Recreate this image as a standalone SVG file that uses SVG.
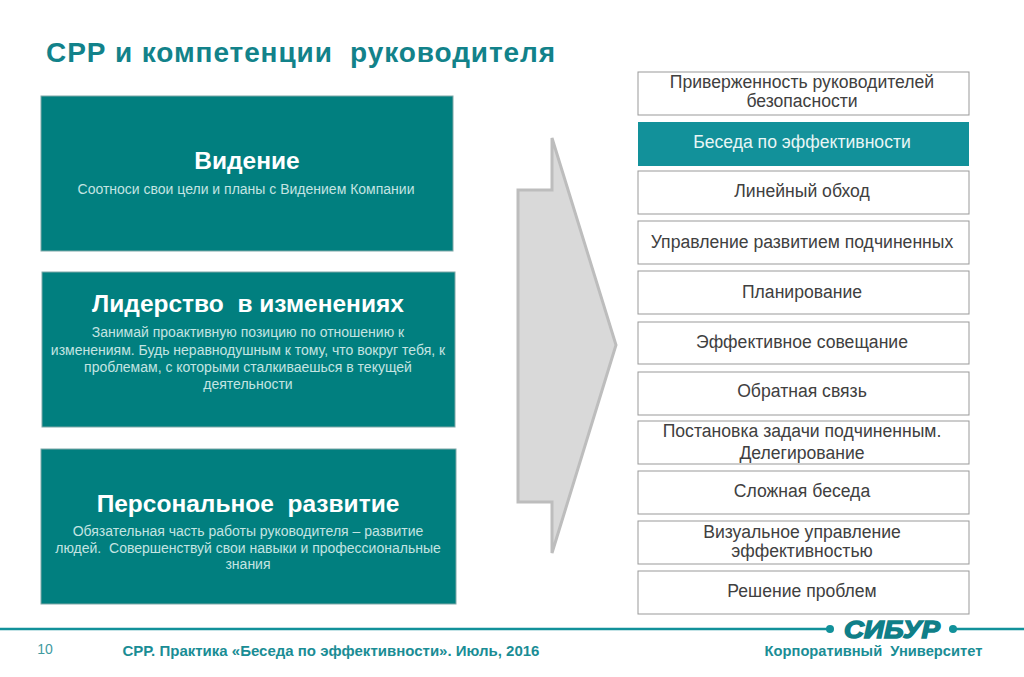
<svg xmlns="http://www.w3.org/2000/svg" width="1024" height="677" viewBox="0 0 1024 677">
<style>
text{font-family:"Liberation Sans",Arial,sans-serif;text-anchor:middle}
.panel{fill:#017f7f;stroke:#7fa8a8;stroke-width:1}
.h{font-size:24.5px;font-weight:bold;fill:#fff}
.s{font-size:14px;fill:#c4e4e2}
.box{fill:#fff;stroke:#999;stroke-width:1}
.l{font-size:17.6px;fill:#404040}
.f{font-size:15px;font-weight:bold;fill:#1a8d95}
</style>
<rect width="1024" height="677" fill="#fff"/>
<text id="title" x="301" y="62" font-size="28" font-weight="bold" fill="#12828a" letter-spacing="0.9" xml:space="preserve">СРР и компетенции  руководителя</text>
<g id="panel-1"><rect class="panel" x="41" y="96" width="412" height="155"/>
<text class="h" x="247" y="169">Видение</text>
<text class="s" x="246" y="194">Соотноси свои цели и планы с Видением Компании</text></g>
<g id="panel-2"><rect class="panel" x="42" y="272" width="413" height="155"/>
<text class="h" x="248" y="312" xml:space="preserve">Лидерство  в изменениях</text>
<text class="s" x="248" y="337">Занимай проактивную позицию по отношению к</text>
<text class="s" x="248" y="355">изменениям. Будь неравнодушным к тому, что вокруг тебя, к</text>
<text class="s" x="248" y="372">проблемам, с которыми сталкиваешься в текущей</text>
<text class="s" x="248" y="389">деятельности</text></g>
<g id="panel-3"><rect class="panel" x="41" y="449" width="415" height="155"/>
<text class="h" x="248" y="512" xml:space="preserve">Персональное  развитие</text>
<text class="s" x="248" y="536">Обязательная часть работы руководителя – развитие</text>
<text class="s" x="248" y="553" xml:space="preserve">людей.  Совершенствуй свои навыки и профессиональные</text>
<text class="s" x="248" y="569">знания</text></g>
<g id="arrow"><path d="M518 190H552V138L616 345L552 553V502H518Z" fill="#d9d9d9" stroke="#bdbdbd" stroke-width="3"/></g>
<g id="n1"><rect class="box" x="638" y="72" width="331" height="43"/><text class="l" x="802" y="88">Приверженность руководителей</text><text class="l" x="802" y="107">безопасности</text></g>
<g id="n2"><rect x="638" y="122" width="331" height="44" fill="#12919a"/><text class="l" x="802" y="148" style="fill:#e8f6f6">Беседа по эффективности</text></g>
<g id="n3"><rect class="box" x="638" y="171" width="331" height="43"/><text class="l" x="802" y="197">Линейный обход</text></g>
<g id="n4"><rect class="box" x="638" y="221" width="331" height="43"/><text class="l" x="802" y="248">Управление развитием подчиненных</text></g>
<g id="n5"><rect class="box" x="638" y="271" width="331" height="43"/><text class="l" x="802" y="298">Планирование</text></g>
<g id="n6"><rect class="box" x="638" y="322" width="331" height="42"/><text class="l" x="802" y="348">Эффективное совещание</text></g>
<g id="n7"><rect class="box" x="638" y="372" width="331" height="43"/><text class="l" x="802" y="397">Обратная связь</text></g>
<g id="n8"><rect class="box" x="638" y="421" width="331" height="43"/><text class="l" x="802" y="437">Постановка задачи подчиненным.</text><text class="l" x="802" y="459">Делегирование</text></g>
<g id="n9"><rect class="box" x="638" y="471" width="331" height="43"/><text class="l" x="802" y="497">Сложная беседа</text></g>
<g id="n10"><rect class="box" x="638" y="521" width="331" height="43"/><text class="l" x="802" y="538">Визуальное управление</text><text class="l" x="802" y="557">эффективностью</text></g>
<g id="n11"><rect class="box" x="638" y="571" width="331" height="43"/><text class="l" x="802" y="597">Решение проблем</text></g>
<g id="footer">
<path d="M0 629H830M953 629H1024" stroke="#12919a" stroke-width="2.5" fill="none"/>
<circle cx="830" cy="629" r="4" fill="#12919a"/><circle cx="953" cy="629" r="4" fill="#12919a"/>
<text x="892" y="637.500" font-size="24" font-weight="bold" font-style="italic" fill="#0f7f88" stroke="#0f7f88" stroke-width="1.4" textLength="96" lengthAdjust="spacingAndGlyphs">СИБУР</text>
<text x="45" y="654" font-size="14" fill="#3f9a9f">10</text>
<text class="f" x="331" y="656">СРР. Практика «Беседа по эффективности».  Июль, 2016</text>
<text class="f" x="873.500" y="656" style="font-size:14.700px" xml:space="preserve">Корпоративный  Университет</text>
</g>
</svg>
